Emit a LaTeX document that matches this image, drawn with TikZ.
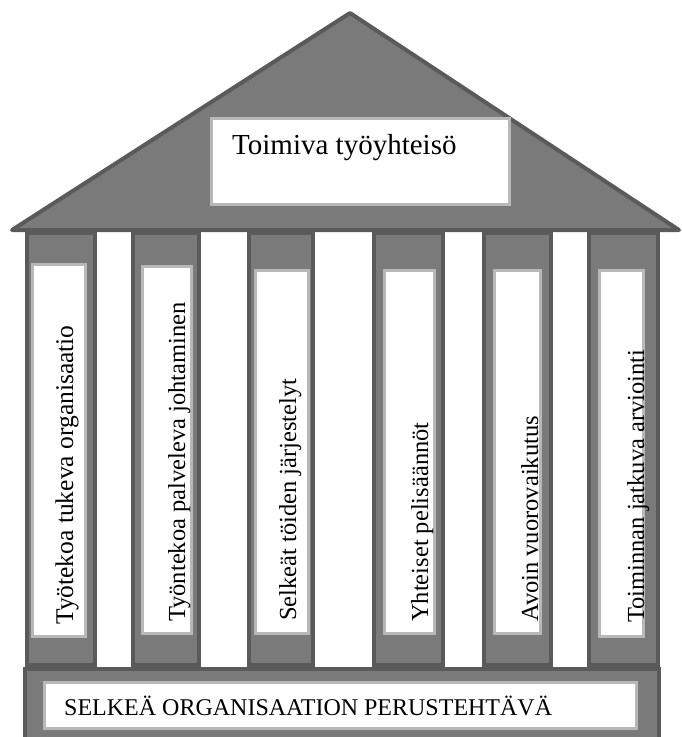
\documentclass[tikz,border=0pt]{standalone}
\usepackage{fontspec}
\setmainfont{Liberation Serif}
\definecolor{pillarfill}{HTML}{7A7A7A}
\definecolor{pillaredge}{HTML}{5A5A5A}
\definecolor{paneledge}{HTML}{B8B8B8}
\begin{document}
\begin{tikzpicture}[x=1pt,y=-1pt,
  pillar/.style={fill=pillarfill,draw=pillaredge,line width=4pt},
  panel/.style={fill=white,draw=paneledge,line width=3pt},
  vlabel/.style={rotate=90,anchor=base west,inner sep=0pt,font=\fontsize{24.5}{24.5}\selectfont},
  hlabel/.style={anchor=base west,inner sep=0pt}]
\useasboundingbox (0,0) rectangle (682,737);
\clip (0,0) rectangle (682,737);
\fill[white] (0,0) rectangle (682,737);

% foundation slab
\draw[pillar] (25,669) rectangle (659,745);
\draw[panel] (44.5,682.5) rectangle (636.5,728.5);
\node[hlabel,font=\fontsize{24}{24}\selectfont] (base) at (64,715) {SELKEÄ ORGANISAATION PERUSTEHTÄVÄ};

% six pillars with their panels
\draw[pillar] (27,233) rectangle (95,665);
\draw[pillar] (133,233) rectangle (199,665);
\draw[pillar] (249,233) rectangle (313,665);
\draw[pillar] (374,233) rectangle (443,665);
\draw[pillar] (484,233) rectangle (551,665);
\draw[pillar] (589,233) rectangle (658,665);

\draw[panel] (32.5,264.5) rectangle (85.5,636.5);
\draw[panel] (142.5,266.5) rectangle (191.5,633.5);
\draw[panel] (255.5,270.5) rectangle (308.5,633.5);
\draw[panel] (384.5,270.5) rectangle (434.5,633.5);
\draw[panel] (494.5,270.5) rectangle (540.5,633.5);
\draw[panel] (599.5,270.5) rectangle (643.5,636.5);

\node[vlabel,font=\fontsize{25.5}{25.5}\selectfont] (p1) at (73,625) {Työtekoa tukeva organisaatio};
\node[vlabel] (p2) at (185,622) {Työntekoa palveleva johtaminen};
\node[vlabel] (p3) at (296,621) {Selkeät töiden järjestelyt};
\node[vlabel] (p4) at (428,622) {Yhteiset pelisäännöt};
\node[vlabel] (p5) at (538,622) {Avoin vuorovaikutus};
\node[vlabel] (p6) at (644,623) {Toiminnan jatkuva arviointi};

% roof
\draw[pillar,line join=round] (12,230) -- (350,13) -- (679,230) -- cycle;
\draw[panel] (211.5,118.5) rectangle (509.5,204.5);
\node[hlabel,font=\fontsize{29}{29}\selectfont] (roof) at (232,154) {Toimiva työyhteisö};
\end{tikzpicture}
\end{document}
